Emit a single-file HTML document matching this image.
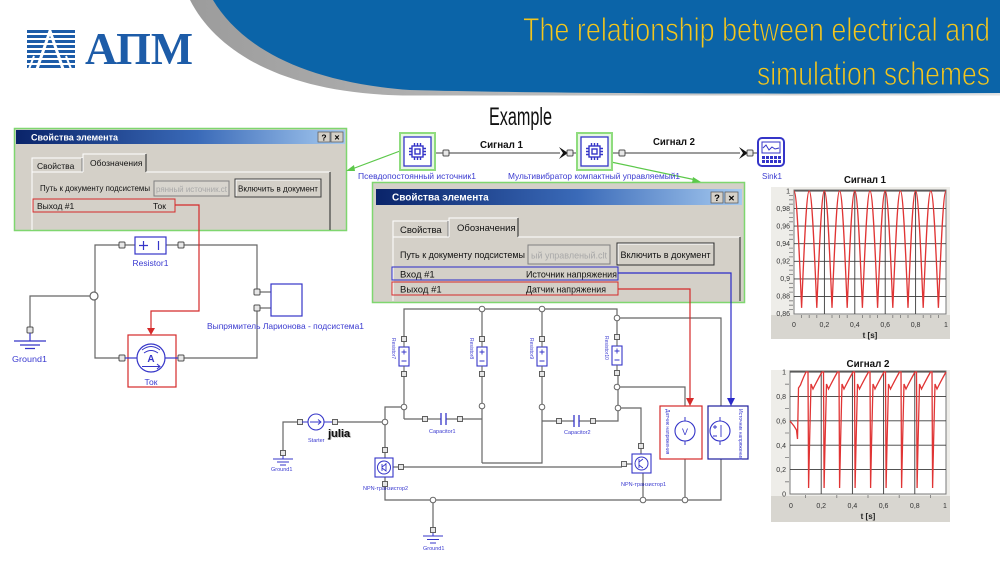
<!DOCTYPE html>
<html><head><meta charset="utf-8"><style>
html,body{margin:0;padding:0;background:#fff;}
svg{display:block;}
</style></head><body>
<svg width="1000" height="563" viewBox="0 0 1000 563" xmlns="http://www.w3.org/2000/svg" font-family="'Liberation Sans','DejaVu Sans',sans-serif">
<defs>
<linearGradient id="gg" x1="0" y1="0" x2="1" y2="0"><stop offset="0" stop-color="#9c9c9c"/><stop offset="1" stop-color="#e2e2e2"/></linearGradient>
<linearGradient id="tb" x1="0" y1="0" x2="1" y2="0"><stop offset="0" stop-color="#0a246a"/><stop offset="0.55" stop-color="#3a6ab8"/><stop offset="1" stop-color="#a6caf0"/></linearGradient>
</defs>
<rect width="1000" height="563" fill="#fff"/>

<!-- HEADER -->
<path d="M190,0 C218,55 290,95 410,95.5 L1000,95.5 L1000,0 Z" fill="url(#gg)"/>
<path d="M213,0 C240,45 300,82 410,90 Q600,95 1000,93 L1000,0 Z" fill="#0b64a8"/>
<text x="523" y="41" font-family="'Liberation Sans Narrow','Liberation Sans',sans-serif" font-size="33" fill="#f3c51c" stroke="#0b64a8" stroke-width="0.9" textLength="467" lengthAdjust="spacingAndGlyphs">The relationship between electrical and</text>
<text x="757" y="85" font-family="'Liberation Sans Narrow','Liberation Sans',sans-serif" font-size="33" fill="#f3c51c" stroke="#0b64a8" stroke-width="0.9" textLength="233" lengthAdjust="spacingAndGlyphs">simulation schemes</text>

<!-- logo -->
<g fill="#1d5ca8">
<rect x="27" y="30" width="48" height="3"/>
<rect x="27" y="35" width="48" height="3"/>
<rect x="27" y="40" width="48" height="3"/>
<rect x="27" y="45" width="48" height="3"/>
<rect x="27" y="50" width="48" height="3"/>
<rect x="27" y="55" width="48" height="3"/>
<rect x="27" y="60" width="48" height="3"/>
<rect x="27" y="65" width="48" height="3"/>
</g>
<polyline points="37,69 50,31 63,69" fill="none" stroke="#fff" stroke-width="3"/>
<polyline points="29,69 34,56" fill="none" stroke="#fff" stroke-width="2"/>
<polyline points="71,69 66,56" fill="none" stroke="#fff" stroke-width="2"/>
<text x="85" y="64" font-family="'Liberation Serif',serif" font-weight="bold" font-size="46" fill="#1d5ca8" textLength="108" lengthAdjust="spacingAndGlyphs">АПМ</text>

<text x="489" y="125" font-family="'Liberation Sans Narrow','Liberation Sans',sans-serif" font-size="25" fill="#111" textLength="63" lengthAdjust="spacingAndGlyphs">Example</text>

<!-- LEFT DIALOG -->
<rect x="14.5" y="128.5" width="332" height="102" fill="#d4d0c8" stroke="#7fd66f" stroke-width="1.5"/>
<rect x="16" y="130" width="329" height="14" fill="url(#tb)"/>
<text x="31" y="140.5" font-size="9" font-weight="bold" fill="#fff">Свойства элемента</text>
<rect x="318" y="132" width="12" height="10" fill="#d4d0c8" stroke="#606060" stroke-width="0.8"/>
<text x="324" y="140.5" font-size="8.5" font-weight="bold" text-anchor="middle" fill="#000">?</text>
<rect x="331" y="132" width="12" height="10" fill="#d4d0c8" stroke="#606060" stroke-width="0.8"/>
<text x="337" y="140.5" font-size="9" font-weight="bold" text-anchor="middle" fill="#000">×</text>
<path d="M32,172 V158 H82 V172" fill="#d4d0c8" stroke="#fff" stroke-width="1"/>
<line x1="82" y1="158" x2="82" y2="172" stroke="#808080"/>
<text x="37" y="169" font-size="8.5" fill="#111">Свойства</text>
<path d="M83,172 V154 H146" fill="none" stroke="#fff" stroke-width="1"/>
<line x1="146" y1="154" x2="146" y2="172" stroke="#404040" stroke-width="1.2"/>
<text x="90" y="166" font-size="8.5" fill="#111">Обозначения</text>
<line x1="32" y1="172" x2="83" y2="172" stroke="#fff"/>
<line x1="146" y1="172" x2="330" y2="172" stroke="#fff"/>
<line x1="32" y1="172" x2="32" y2="230" stroke="#fff"/>
<line x1="330" y1="172" x2="330" y2="230" stroke="#404040" stroke-width="1.2"/>
<text x="40" y="191" font-size="8.5" fill="#111" textLength="110" lengthAdjust="spacingAndGlyphs">Путь к документу подсистемы</text>
<rect x="154" y="181" width="75" height="15" fill="#d8d5ce" stroke="#808080"/>
<text x="156" y="192" font-size="8.5" fill="#a8a8a8" textLength="71" lengthAdjust="spacingAndGlyphs">рянный источник.ct</text>
<rect x="235" y="179" width="86" height="18" fill="#d4d0c8" stroke="#404040"/>
<path d="M236,196 V180 H320" fill="none" stroke="#fff"/>
<text x="278" y="191.5" font-size="8.5" fill="#111" text-anchor="middle" textLength="80" lengthAdjust="spacingAndGlyphs">Включить в документ</text>
<rect x="33" y="199" width="142" height="13" fill="none" stroke="#d42a2a" stroke-width="1"/>
<text x="37" y="209" font-size="8.5" fill="#111">Выход #1</text>
<text x="153" y="209" font-size="8.5" fill="#111">Ток</text>

<!-- MIDDLE DIALOG -->
<rect x="372.5" y="182.5" width="372" height="120" fill="#d4d0c8" stroke="#7fd66f" stroke-width="1.5"/>
<rect x="376" y="189" width="366" height="16" fill="url(#tb)"/>
<text x="392" y="200.5" font-size="10" font-weight="bold" fill="#fff">Свойства элемента</text>
<rect x="711" y="192" width="12" height="11" fill="#d4d0c8" stroke="#606060" stroke-width="0.8"/>
<text x="717" y="201" font-size="9.5" font-weight="bold" text-anchor="middle" fill="#000">?</text>
<rect x="725" y="192" width="13" height="11" fill="#d4d0c8" stroke="#606060" stroke-width="0.8"/>
<text x="731.5" y="201.5" font-size="10.5" font-weight="bold" text-anchor="middle" fill="#000">×</text>
<path d="M393,237 V221 H448 V237" fill="#d4d0c8" stroke="#fff" stroke-width="1"/>
<line x1="448" y1="221" x2="448" y2="237" stroke="#808080"/>
<text x="400" y="233" font-size="9.5" fill="#111">Свойства</text>
<path d="M449,237 V218 H518" fill="none" stroke="#fff"/>
<line x1="518" y1="218" x2="518" y2="237" stroke="#404040" stroke-width="1.2"/>
<text x="457" y="231" font-size="9.5" fill="#111">Обозначения</text>
<line x1="393" y1="237" x2="449" y2="237" stroke="#fff"/>
<line x1="518" y1="237" x2="740" y2="237" stroke="#fff"/>
<line x1="393" y1="237" x2="393" y2="301" stroke="#fff"/>
<line x1="740" y1="237" x2="740" y2="301" stroke="#404040" stroke-width="1.2"/>
<text x="400" y="258" font-size="9.5" fill="#111" textLength="125" lengthAdjust="spacingAndGlyphs">Путь к документу подсистемы</text>
<rect x="528" y="245" width="82" height="19" fill="#d8d5ce" stroke="#808080"/>
<text x="531" y="258.5" font-size="9.5" fill="#a8a8a8" textLength="76" lengthAdjust="spacingAndGlyphs">ый управленый.clt</text>
<rect x="617" y="243" width="97" height="22" fill="#d4d0c8" stroke="#303030"/>
<path d="M618,264 V244 H713" fill="none" stroke="#fff"/>
<text x="665.5" y="258" font-size="9.5" fill="#111" text-anchor="middle" textLength="90" lengthAdjust="spacingAndGlyphs">Включить в документ</text>
<rect x="392" y="267" width="226" height="13" fill="none" stroke="#2a2ac8" stroke-width="1"/>
<text x="400" y="277.5" font-size="9.5" fill="#111">Вход #1</text>
<text x="526" y="277.5" font-size="9.5" fill="#111" textLength="91" lengthAdjust="spacingAndGlyphs">Источник напряжения</text>
<rect x="392" y="282" width="226" height="13" fill="none" stroke="#d42a2a" stroke-width="1"/>
<text x="400" y="292.5" font-size="9.5" fill="#111">Выход #1</text>
<text x="526" y="292.5" font-size="9.5" fill="#111" textLength="80" lengthAdjust="spacingAndGlyphs">Датчик напряжения</text>

<!-- green connectors -->
<line x1="400" y1="151" x2="352" y2="169" stroke="#5cc84a" stroke-width="1.2"/>
<polygon points="346,171 354,165 355,171" fill="#5cc84a"/>
<line x1="611" y1="162" x2="696" y2="180" stroke="#5cc84a" stroke-width="1.2"/>
<polygon points="701,182 693,177 692,183" fill="#5cc84a"/>

<!-- TOP SCHEME -->
<g stroke="#606060" stroke-width="1.2">
<line x1="435" y1="153" x2="443" y2="153"/>
<line x1="449" y1="153" x2="560" y2="153"/>
<line x1="573" y1="153" x2="577" y2="153"/>
<line x1="612" y1="153" x2="619" y2="153"/>
<line x1="625" y1="153" x2="740" y2="153"/>
<line x1="753" y1="153" x2="758" y2="153"/>
</g>
<polygon points="559,147 568,153 559,159 563,153" fill="#111"/>
<polygon points="739,147 748,153 739,159 743,153" fill="#111"/>
<g fill="#e6e6e6" stroke="#505050" stroke-width="1">
<rect x="443" y="150" width="6" height="6" rx="1"/>
<rect x="567" y="150" width="6" height="6" rx="1"/>
<rect x="619" y="150" width="6" height="6" rx="1"/>
<rect x="747" y="150" width="6" height="6" rx="1"/>
</g>
<rect x="400" y="133" width="35" height="37" fill="#e6f7e2" stroke="#8fdc7e" stroke-width="2"/>
<rect x="404" y="137" width="27" height="29" fill="#fff" stroke="#3535c8" stroke-width="1.3"/>
<g stroke="#3535c8" stroke-width="1.4" fill="none">
<rect x="412" y="146" width="11" height="11"/>
<rect x="415" y="149" width="5" height="5"/>
<path d="M414.5,143v3M417.5,143v3M420.5,143v3M414.5,157v3M417.5,157v3M420.5,157v3M409,148.5h3M409,151.5h3M409,154.5h3M423,148.5h3M423,151.5h3M423,154.5h3"/>
</g>
<rect x="577" y="133" width="35" height="37" fill="#e6f7e2" stroke="#8fdc7e" stroke-width="2"/>
<rect x="581" y="137" width="27" height="29" fill="#fff" stroke="#3535c8" stroke-width="1.3"/>
<g stroke="#3535c8" stroke-width="1.4" fill="none">
<rect x="589" y="146" width="11" height="11"/>
<rect x="592" y="149" width="5" height="5"/>
<path d="M591.5,143v3M594.5,143v3M597.5,143v3M591.5,157v3M594.5,157v3M597.5,157v3M586,148.5h3M586,151.5h3M586,154.5h3M600,148.5h3M600,151.5h3M600,154.5h3"/>
</g>
<rect x="758" y="138" width="26" height="28" rx="4" fill="#fff" stroke="#3535c8" stroke-width="2"/>
<rect x="762" y="142" width="18" height="11" fill="#fff" stroke="#3535c8" stroke-width="1"/>
<path d="M763,148 l3,-3 l3,5 l3,-3 l3,2 l4,-1" fill="none" stroke="#3535c8" stroke-width="1"/>
<g fill="#3535c8">
<rect x="762" y="156" width="3" height="3"/><rect x="766" y="156" width="3" height="3"/><rect x="770" y="156" width="3" height="3"/><rect x="774" y="156" width="3" height="3"/><rect x="778" y="156" width="3" height="3"/>
<rect x="762" y="160" width="3" height="3"/><rect x="766" y="160" width="3" height="3"/><rect x="770" y="160" width="3" height="3"/><rect x="774" y="160" width="3" height="3"/><rect x="778" y="160" width="3" height="3"/>
</g>
<text x="480" y="148" font-size="10" font-weight="bold" fill="#111" textLength="43" lengthAdjust="spacingAndGlyphs">Сигнал 1</text>
<text x="653" y="145" font-size="10" font-weight="bold" fill="#111" textLength="42" lengthAdjust="spacingAndGlyphs">Сигнал 2</text>
<text x="358" y="179" font-size="8.5" fill="#3a3ad0" textLength="118" lengthAdjust="spacingAndGlyphs">Псевдопостоянный источник1</text>
<text x="508" y="179" font-size="8.5" fill="#3a3ad0" textLength="172" lengthAdjust="spacingAndGlyphs">Мультивибратор компактный управляемый1</text>
<text x="762" y="179" font-size="8.5" fill="#3a3ad0" textLength="20" lengthAdjust="spacingAndGlyphs">Sink1</text>

<!-- LEFT CIRCUIT -->
<g stroke="#666" stroke-width="1.2" fill="none">
<polyline points="119,245 95,245 95,358 119,358"/>
<polyline points="184,245 257,245 257,289"/>
<line x1="260" y1="292" x2="271" y2="292"/>
<line x1="260" y1="308" x2="271" y2="308"/>
<polyline points="257,311 257,358 184,358"/>
<polyline points="91,296 30,296 30,327"/>
<line x1="125" y1="245" x2="135" y2="245"/>
<line x1="166" y1="245" x2="178" y2="245"/>
</g>
<rect x="135" y="237" width="31" height="17" fill="#fff" stroke="#3535c8" stroke-width="1.2"/>
<path d="M139,245.5h9M143.5,241v9M158.5,241v9" stroke="#3535c8" stroke-width="1.2"/>
<g fill="#e6e6e6" stroke="#505050" stroke-width="1">
<rect x="119" y="242" width="6" height="6" rx="1"/>
<rect x="178" y="242" width="6" height="6" rx="1"/>
<rect x="254" y="289" width="6" height="6" rx="1"/>
<rect x="254" y="305" width="6" height="6" rx="1"/>
<rect x="119" y="355" width="6" height="6" rx="1"/>
<rect x="178" y="355" width="6" height="6" rx="1"/>
<rect x="27" y="327" width="6" height="6" rx="1"/>
</g>
<circle cx="94" cy="296" r="4" fill="#fff" stroke="#666" stroke-width="1.2"/>
<path d="M30,333v8M14,341h32M20,345h20M25,348.5h10" stroke="#3535c8" stroke-width="1.2"/>
<text x="12" y="362" font-size="8.5" fill="#3a3ad0" textLength="35" lengthAdjust="spacingAndGlyphs">Ground1</text>
<text x="150.5" y="266" font-size="8.5" fill="#3a3ad0" text-anchor="middle">Resistor1</text>
<rect x="271" y="284" width="31" height="32" fill="#fff" stroke="#3535c8" stroke-width="1.2"/>
<text x="207" y="329" font-size="8.5" fill="#3a3ad0" textLength="157" lengthAdjust="spacingAndGlyphs">Выпрямитель Ларионова - подсистема1</text>
<rect x="128" y="335" width="48" height="52" fill="#fff" stroke="#d42a2a" stroke-width="1.2"/>
<line x1="125" y1="358" x2="137" y2="358" stroke="#3535c8" stroke-width="1.2"/>
<line x1="165" y1="358" x2="178" y2="358" stroke="#3535c8" stroke-width="1.2"/>
<circle cx="151" cy="358" r="14" fill="#fff" stroke="#3535c8" stroke-width="1.2"/>
<path d="M142,350 q9,-7 18,0 M144,353 q7,-5 14,0" fill="none" stroke="#3535c8" stroke-width="1"/>
<text x="151" y="362" font-size="10" font-weight="bold" fill="#3535c8" text-anchor="middle">A</text>
<path d="M142,366.5h18M157,364l3,2.5l-3,2.5" fill="none" stroke="#3535c8" stroke-width="1"/>
<text x="151" y="385" font-size="8.5" fill="#3a3ad0" text-anchor="middle">Ток</text>
<polyline points="175,205 199,205 199,311 151,311 151,329" fill="none" stroke="#d42a2a" stroke-width="1.2"/>
<polygon points="147,328 155,328 151,335" fill="#d42a2a"/>

<!-- BOTTOM CIRCUIT wires -->
<g stroke="#666" stroke-width="1.2" fill="none">
<polyline points="404,339 404,309 617,309 617,337"/>
<line x1="482" y1="309" x2="482" y2="339"/>
<line x1="542" y1="309" x2="542" y2="339"/>
<line x1="404" y1="374" x2="404" y2="419"/>
<polyline points="404,419 425,419"/>
<polyline points="460,419 482,419"/>
<line x1="482" y1="374" x2="482" y2="463"/>
<polyline points="482,463 542,463 542,374"/>
<polyline points="542,421 559,421"/>
<polyline points="593,421 618,421 618,373"/>
<polyline points="617,387 685,387 685,411"/>
<polyline points="617,318 721,318 721,411"/>
<polyline points="618,408 641,408 641,443"/>
<polyline points="300,422 283,422 283,450"/>
<line x1="337" y1="422" x2="385" y2="422"/>
<polyline points="385,422 385,407 404,407"/>
<line x1="385" y1="422" x2="385" y2="447"/>
<line x1="404" y1="467" x2="622" y2="467"/>
<polyline points="385,487 385,500 721,500 721,451"/>
<line x1="685" y1="451" x2="685" y2="500"/>
<line x1="643" y1="473" x2="643" y2="500"/>
<line x1="433" y1="500" x2="433" y2="527"/>
<line x1="385" y1="453" x2="385" y2="458"/>
<line x1="385" y1="477" x2="385" y2="481"/>
<line x1="393" y1="467" x2="398" y2="467"/>
<line x1="627" y1="464" x2="632" y2="464"/>
<line x1="641" y1="449" x2="641" y2="454"/>
<line x1="428" y1="419" x2="441" y2="419"/>
<line x1="446" y1="419" x2="457" y2="419"/>
<line x1="562" y1="421" x2="574" y2="421"/>
<line x1="579" y1="421" x2="590" y2="421"/>
</g>
<path d="M441,413v12M446,413v12M574,415v12M579,415v12" stroke="#3535c8" stroke-width="1.3"/>
<g fill="#fff" stroke="#3535c8" stroke-width="1.1">
<rect x="399" y="347" width="10" height="19"/>
<rect x="477" y="347" width="10" height="19"/>
<rect x="537" y="347" width="10" height="19"/>
<rect x="612" y="346" width="10" height="19"/>
</g>
<g stroke="#3535c8" stroke-width="0.9">
<path d="M401.5,352h5M404,349.5v5M401.5,361h5"/>
<path d="M479.5,352h5M482,349.5v5M479.5,361h5"/>
<path d="M539.5,352h5M542,349.5v5M539.5,361h5"/>
<path d="M614.5,351h5M617,348.5v5M614.5,360h5"/>
</g>
<g stroke="#666" stroke-width="1.1">
<path d="M404,342v5M404,366v5M482,342v5M482,366v5M542,342v5M542,366v5M617,340v6M617,365v5"/>
</g>
<g fill="#e6e6e6" stroke="#505050" stroke-width="0.9">
<rect x="401.5" y="336.5" width="5" height="5"/><rect x="401.5" y="371.5" width="5" height="5"/>
<rect x="479.5" y="336.5" width="5" height="5"/><rect x="479.5" y="371.5" width="5" height="5"/>
<rect x="539.5" y="336.5" width="5" height="5"/><rect x="539.5" y="371.5" width="5" height="5"/>
<rect x="614.5" y="334.5" width="5" height="5"/><rect x="614.5" y="370.5" width="5" height="5"/>
<rect x="422.5" y="416.5" width="5" height="5"/><rect x="457.5" y="416.5" width="5" height="5"/>
<rect x="556.5" y="418.5" width="5" height="5"/><rect x="590.5" y="418.5" width="5" height="5"/>
<rect x="297.5" y="419.5" width="5" height="5"/><rect x="332.5" y="419.5" width="5" height="5"/>
<rect x="280.5" y="450.5" width="5" height="5"/>
<rect x="382.5" y="447.5" width="5" height="5"/><rect x="398.5" y="464.5" width="5" height="5"/><rect x="382.5" y="481.5" width="5" height="5"/>
<rect x="621.5" y="461.5" width="5" height="5"/><rect x="638.5" y="443.5" width="5" height="5"/>
<rect x="682.5" y="411.5" width="5" height="5"/><rect x="682.5" y="445.5" width="5" height="5"/>
<rect x="717.5" y="411.5" width="5" height="5"/><rect x="717.5" y="445.5" width="5" height="5"/>
<rect x="430.5" y="527.5" width="5" height="5"/>
</g>
<g fill="#fff" stroke="#666" stroke-width="1">
<circle cx="482" cy="309" r="2.8"/><circle cx="542" cy="309" r="2.8"/><circle cx="617" cy="318" r="2.8"/>
<circle cx="404" cy="407" r="2.8"/><circle cx="482" cy="406" r="2.8"/><circle cx="542" cy="407" r="2.8"/>
<circle cx="617" cy="387" r="2.8"/><circle cx="618" cy="408" r="2.8"/><circle cx="385" cy="422" r="2.8"/>
<circle cx="433" cy="500" r="2.8"/><circle cx="643" cy="500" r="2.8"/><circle cx="685" cy="500" r="2.8"/>
</g>
<line x1="302" y1="422" x2="308" y2="422" stroke="#3535c8" stroke-width="1"/>
<line x1="324" y1="422" x2="332" y2="422" stroke="#3535c8" stroke-width="1"/>
<circle cx="316" cy="422" r="8" fill="#fff" stroke="#3535c8" stroke-width="1.1"/>
<path d="M310,422h11M318,419.5l3,2.5l-3,2.5" fill="none" stroke="#3535c8" stroke-width="0.9"/>
<text x="329" y="437.5" font-size="11" font-weight="bold" fill="#999">julia</text>
<text x="328" y="437" font-size="11" font-weight="bold" fill="#111">julia</text>
<text x="308" y="442" font-size="5.5" fill="#3a3ad0">Starter</text>
<path d="M283,456v3M273,459h20M277,462h12M280,465h6" stroke="#3535c8" stroke-width="1"/>
<text x="271" y="471" font-size="5.5" fill="#3a3ad0">Ground1</text>
<path d="M433,533v3M423,536h20M427,539.5h12M430,543h6" stroke="#3535c8" stroke-width="1"/>
<text x="423" y="550" font-size="5.5" fill="#3a3ad0">Ground1</text>
<rect x="375" y="458" width="18" height="19" fill="#fff" stroke="#3535c8" stroke-width="1.1"/>
<circle cx="384" cy="467.5" r="6.5" fill="none" stroke="#3535c8" stroke-width="1"/>
<path d="M382,471v-7M382,467l4,-3M382,468l4,3v-8" fill="none" stroke="#3535c8" stroke-width="0.9"/>
<text x="363" y="490" font-size="5.5" fill="#3a3ad0">NPN-транзистор2</text>
<rect x="632" y="454" width="19" height="19" fill="#fff" stroke="#3535c8" stroke-width="1.1"/>
<circle cx="641.5" cy="463.5" r="6.5" fill="none" stroke="#3535c8" stroke-width="1"/>
<path d="M639,459v9M639,462l4,-3M639,465l4,3" fill="none" stroke="#3535c8" stroke-width="0.9"/>
<text x="621" y="486" font-size="5.5" fill="#3a3ad0">NPN-транзистор1</text>
<text x="429" y="433" font-size="5.5" fill="#3a3ad0">Capacitor1</text>
<text x="564" y="434" font-size="5.5" fill="#3a3ad0">Capacitor2</text>
<g font-size="5" fill="#3a3ad0">
<text transform="translate(392,338) rotate(90)">Resistor7</text>
<text transform="translate(470,338) rotate(90)">Resistor8</text>
<text transform="translate(530,338) rotate(90)">Resistor9</text>
<text transform="translate(605,336) rotate(90)">Resistor10</text>
</g>
<rect x="660" y="406" width="42" height="53" fill="#fff" stroke="#d42a2a" stroke-width="1.2"/>
<line x1="685" y1="417" x2="685" y2="421" stroke="#3535c8"/>
<line x1="685" y1="441" x2="685" y2="445" stroke="#3535c8"/>
<circle cx="685" cy="431" r="10" fill="#fff" stroke="#3535c8" stroke-width="1.1"/>
<text x="685" y="435" font-size="9" fill="#3535c8" text-anchor="middle">V</text>
<text transform="translate(666,409) rotate(90)" font-size="5" fill="#3a3ad0">Датчик напряжения</text>
<rect x="708" y="406" width="40" height="53" fill="#fff" stroke="#1e1e9e" stroke-width="1.2"/>
<line x1="720" y1="417" x2="720" y2="421" stroke="#3535c8"/>
<line x1="720" y1="441" x2="720" y2="445" stroke="#3535c8"/>
<circle cx="720" cy="431" r="10" fill="#fff" stroke="#3535c8" stroke-width="1.1"/>
<path d="M713,427h4M715,425v4M713,436h4M721,425v12" stroke="#3535c8" stroke-width="0.9"/>
<text transform="translate(739,409) rotate(90)" font-size="5" fill="#3a3ad0">Источник напряжения</text>
<polyline points="618,289 690,289 690,399" fill="none" stroke="#d42a2a" stroke-width="1.2"/>
<polygon points="686,398 694,398 690,406" fill="#d42a2a"/>
<polyline points="618,273 731,273 731,399" fill="none" stroke="#2a2ac8" stroke-width="1.2"/>
<polygon points="727,398 735,398 731,406" fill="#2a2ac8"/>

<!-- CHART 1 -->
<text x="865" y="183" font-size="10.5" font-weight="bold" fill="#111" text-anchor="middle" textLength="42" lengthAdjust="spacingAndGlyphs">Сигнал 1</text>
<rect x="771" y="187" width="179" height="152" fill="#eeede9"/>
<rect x="771" y="315" width="179" height="24" fill="#d8d6d0"/>
<rect x="794" y="190" width="152" height="124" fill="#fff" stroke="#7a7a7a" stroke-width="1"/>
<g stroke="#3a3a3a" stroke-width="0.9">
<line x1="794" y1="208.6" x2="946" y2="208.6"/><line x1="794" y1="226.1" x2="946" y2="226.1"/>
<line x1="794" y1="243.7" x2="946" y2="243.7"/><line x1="794" y1="261.3" x2="946" y2="261.3"/>
<line x1="794" y1="278.9" x2="946" y2="278.9"/><line x1="794" y1="296.4" x2="946" y2="296.4"/>
<line x1="794" y1="191" x2="946" y2="191"/>
<line x1="824.4" y1="190" x2="824.4" y2="314"/><line x1="854.8" y1="190" x2="854.8" y2="314"/>
<line x1="885.2" y1="190" x2="885.2" y2="314"/><line x1="915.6" y1="190" x2="915.6" y2="314"/>
</g>
<path d="M789,195.4h4M789,199.8h4M789,204.2h4M789,213h4M789,217.4h4M789,221.8h4M789,230.5h4M789,234.9h4M789,239.3h4M789,248.1h4M789,252.5h4M789,256.9h4M789,265.7h4M789,270.1h4M789,274.5h4M789,283.3h4M789,287.7h4M789,292.1h4M789,300.8h4M789,305.2h4M789,309.6h4M801.6,315v3M809.2,315v3M816.8,315v3M832,315v3M839.6,315v3M847.2,315v3M862.4,315v3M870,315v3M877.6,315v3M892.8,315v3M900.4,315v3M908,315v3M923.2,315v3M930.8,315v3M938.4,315v3" stroke="#777" stroke-width="0.8"/>
<g font-size="7" fill="#333" text-anchor="end">
<text x="790" y="193.5">1</text><text x="790" y="211">0,98</text><text x="790" y="228.5">0,96</text><text x="790" y="246">0,94</text>
<text x="790" y="263.5">0,92</text><text x="790" y="281">0,9</text><text x="790" y="298.5">0,88</text><text x="790" y="316">0,86</text>
</g>
<g font-size="7" fill="#333" text-anchor="middle">
<text x="794" y="327">0</text><text x="824.4" y="327">0,2</text><text x="854.8" y="327">0,4</text><text x="885.2" y="327">0,6</text><text x="915.6" y="327">0,8</text><text x="946" y="327">1</text>
</g>
<text x="870" y="338" font-size="8" font-weight="bold" fill="#222" text-anchor="middle">t [s]</text>
<path d="M794,191 c2.69,0 5.06,55.47 7.6,116.8 c2.54,-61.33 4.91,-116.8 7.6,-116.8 c2.69,0 5.06,55.47 7.6,116.8 c2.54,-61.33 4.91,-116.8 7.6,-116.8 c2.69,0 5.06,55.47 7.6,116.8 c2.54,-61.33 4.91,-116.8 7.6,-116.8 c2.69,0 5.06,55.47 7.6,116.8 c2.54,-61.33 4.91,-116.8 7.6,-116.8 c2.69,0 5.06,55.47 7.6,116.8 c2.54,-61.33 4.91,-116.8 7.6,-116.8 c2.69,0 5.06,55.47 7.6,116.8 c2.54,-61.33 4.91,-116.8 7.6,-116.8 c2.69,0 5.06,55.47 7.6,116.8 c2.54,-61.33 4.91,-116.8 7.6,-116.8 c2.69,0 5.06,55.47 7.6,116.8 c2.54,-61.33 4.91,-116.8 7.6,-116.8 c2.69,0 5.06,55.47 7.6,116.8 c2.54,-61.33 4.91,-116.8 7.6,-116.8 c2.69,0 5.06,55.47 7.6,116.8 c2.54,-61.33 4.91,-116.8 7.6,-116.8" fill="none" stroke="#e03434" stroke-width="1.3"/>

<!-- CHART 2 -->
<text x="868" y="367" font-size="10.5" font-weight="bold" fill="#111" text-anchor="middle" textLength="43" lengthAdjust="spacingAndGlyphs">Сигнал 2</text>
<rect x="771" y="370" width="179" height="152" fill="#eeede9"/>
<rect x="771" y="496" width="179" height="26" fill="#d8d6d0"/>
<rect x="790" y="371" width="156" height="123" fill="#fff" stroke="#7a7a7a" stroke-width="1"/>
<g stroke="#3a3a3a" stroke-width="0.9">
<line x1="790" y1="372" x2="946" y2="372"/><line x1="790" y1="396.4" x2="946" y2="396.4"/>
<line x1="790" y1="420.8" x2="946" y2="420.8"/><line x1="790" y1="445.2" x2="946" y2="445.2"/>
<line x1="790" y1="469.6" x2="946" y2="469.6"/>
<line x1="821.2" y1="371" x2="821.2" y2="494"/><line x1="852.4" y1="371" x2="852.4" y2="494"/>
<line x1="883.6" y1="371" x2="883.6" y2="494"/><line x1="914.8" y1="371" x2="914.8" y2="494"/>
</g>
<path d="M785,384.2h4M785,408.6h4M785,433h4M785,457.4h4M785,481.8h4M805.6,495v3M836.8,495v3M868,495v3M899.2,495v3M930.4,495v3" stroke="#777" stroke-width="0.8"/>
<g font-size="7" fill="#333" text-anchor="end">
<text x="786" y="374.5">1</text><text x="786" y="399">0,8</text><text x="786" y="423.5">0,6</text><text x="786" y="448">0,4</text><text x="786" y="472">0,2</text><text x="786" y="496.5">0</text>
</g>
<g font-size="7" fill="#333" text-anchor="middle">
<text x="791" y="508">0</text><text x="821.2" y="508">0,2</text><text x="852.4" y="508">0,4</text><text x="883.6" y="508">0,6</text><text x="914.8" y="508">0,8</text><text x="945" y="508">1</text>
</g>
<text x="868" y="519" font-size="8" font-weight="bold" fill="#222" text-anchor="middle">t [s]</text>
<path d="M790,421 L794,426 L796.5,430 L797.5,439 L798.5,388 L800.5,385 Q803,378 806,372 L808,372 L808.6,488 L809.5,445 L811,384 L813,389 Q818,379 822,372 L823.5,372 L824.1,488 L825,445 L826.5,384 L828.5,389 Q833.5,379 837.5,372 L839,372 L839.6,488 L840.5,445 L842,384 L844,389 Q849,379 853,372 L854.5,372 L855.1,488 L856,445 L857.5,384 L859.5,389 Q864.5,379 868.5,372 L870,372 L870.6,488 L871.5,445 L873,384 L875,389 Q880,379 884,372 L885.5,372 L886.1,488 L887,445 L888.5,384 L890.5,389 Q895.5,379 899.5,372 L901,372 L901.6,488 L902.5,445 L904,384 L906,389 Q911,379 915,372 L916.5,372 L917.1,488 L918,445 L919.5,384 L921.5,389 Q926.5,379 930.5,372 L932,372 L932.6,488 L933.5,445 L935,384 L937,389 Q942,379 946,372" fill="none" stroke="#e03434" stroke-width="1.3"/>
</svg>
</body></html>
